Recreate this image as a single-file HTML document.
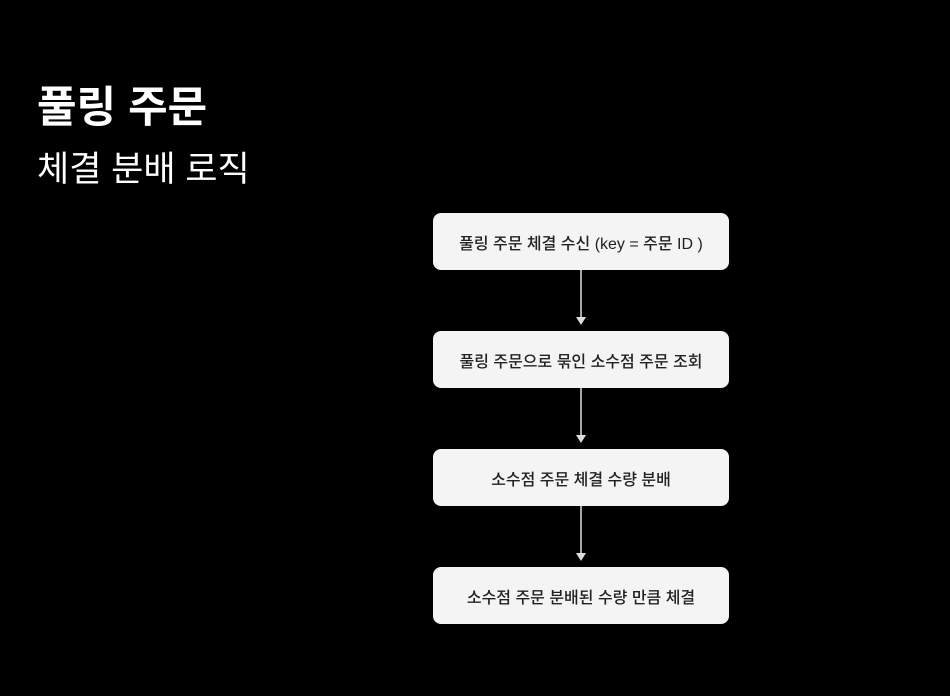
<!DOCTYPE html>
<html><head><meta charset="utf-8"><style>
body{margin:0;width:950px;height:696px;background:#000;position:relative;overflow:hidden;font-family:"Liberation Sans","Noto Sans CJK KR",sans-serif}
.t{position:absolute;color:#fff;white-space:nowrap}
.b{position:absolute;left:433px;width:296px;height:57px;background:#f4f4f4;border-radius:8px;color:#222;font-size:16px;display:flex;align-items:center;justify-content:center;font-weight:500}
</style></head><body>
<div class="t" style="left:37px;top:80px;font-size:43px;font-weight:bold;line-height:56px">풀링 주문</div>
<div class="t" style="left:37px;top:147px;font-size:35px;line-height:46px">체결 분배 로직</div>
<div class="b" style="top:213px">풀링 주문 체결 수신 (key = 주문 ID )</div>
<div class="b" style="top:331px">풀링 주문으로 묶인 소수점 주문 조회</div>
<div class="b" style="top:449px">소수점 주문 체결 수량 분배</div>
<div class="b" style="top:567px">소수점 주문 분배된 수량 만큼 체결</div>
<svg width="950" height="696" style="position:absolute;left:0;top:0">
<g stroke="#ddd" stroke-width="1.5" fill="#ddd">
<line x1="581" y1="270" x2="581" y2="318"/><polygon points="576,317 586,317 581,325" stroke="none"/>
<line x1="581" y1="388" x2="581" y2="436"/><polygon points="576,435 586,435 581,443" stroke="none"/>
<line x1="581" y1="506" x2="581" y2="554"/><polygon points="576,553 586,553 581,561" stroke="none"/>
</g></svg>
</body></html>
